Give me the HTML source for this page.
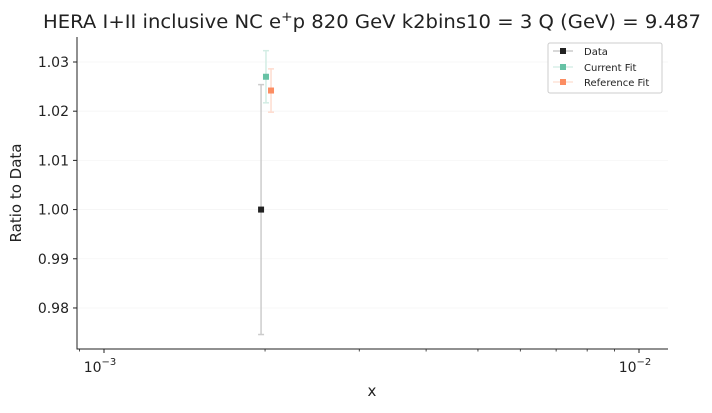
<!DOCTYPE html>
<html><head><meta charset="utf-8"><style>
body{margin:0;background:#fff;font-family:"Liberation Sans","DejaVu Sans",sans-serif;}
svg text{font-family:"DejaVu Sans","Liberation Sans",sans-serif;}
</style></head><body>
<svg id="c" width="712" height="408" viewBox="0 0 712 408" xmlns="http://www.w3.org/2000/svg">
<text x="372" y="28" text-anchor="middle" font-size="18.5" fill="#222" textLength="658" lengthAdjust="spacingAndGlyphs">HERA I+II inclusive NC e<tspan dy="-7" font-size="13">+</tspan><tspan dy="7">p 820 GeV k2bins10 = 3 Q (GeV) = 9.487</tspan></text>
<g id="grid"></g><g id="axes"></g><g id="marks"></g>
<text x="372" y="396" text-anchor="middle" font-size="15" fill="#222">x</text>
<text transform="translate(21,193) rotate(-90)" text-anchor="middle" font-size="15" fill="#222">Ratio to Data</text>
<g>
<rect x="548" y="43" width="114" height="50" rx="2" fill="#fff" stroke="#ccc" stroke-width="1"/>
<g><line x1="553" x2="573" y1="51" y2="51" stroke="#999" stroke-width="1.5" opacity="0.5"/><rect x="560" y="48" width="6" height="6" fill="#222"/><text x="584" y="55" font-size="10" fill="#222">Data</text></g>
<g><line x1="553" x2="573" y1="67" y2="67" stroke="#66c2a5" stroke-width="1.5" opacity="0.25"/><rect x="560" y="64" width="6" height="6" fill="#66c2a5"/><text x="584" y="71" font-size="10" fill="#222">Current Fit</text></g>
<g><line x1="553" x2="573" y1="82" y2="82" stroke="#fc8d62" stroke-width="1.5" opacity="0.25"/><rect x="560" y="79" width="6" height="6" fill="#fc8d62"/><text x="584" y="86" font-size="10" fill="#222">Reference Fit</text></g>
</g>
</svg>
<script>
const seriesNames=["Data","Current Fit","Reference Fit"];
const xValues=[0.001966,0.002008,0.002052];
const yValues=[1.0,1.0270,1.0242];
const yErrors=[0.0254,0.0053,0.0044];
const colors=["#222222","#66c2a5","#fc8d62"];
const barColors=["#cccccc","#d3ede4","#fedccf"];
const yTicks=[0.98,0.99,1.00,1.01,1.02,1.03];
const yTickLabels=["0.98","0.99","1.00","1.01","1.02","1.03"];
const xMajor=[0.001,0.01];
const xMajorLabels=["10","10"];
const L=77,R=668,T=37,B=349;
const yMin=0.97166,yMax=1.03508;
const lx0=-3,px0=104,decPx=535;
function X(v){return px0+(Math.log10(v)-lx0)*decPx;}
function Y(v){return B-(v-yMin)/(yMax-yMin)*(B-T);}
const NS="http://www.w3.org/2000/svg";
function mk(p,tag,a){const e=document.createElementNS(NS,tag);for(const k in a)e.setAttribute(k,a[k]);p.appendChild(e);return e;}
const grid=document.getElementById('grid'),axes=document.getElementById('axes'),marks=document.getElementById('marks');
yTicks.forEach((t,i)=>{const y=Y(t);
 const g=mk(grid,'line',{x1:L,x2:R,y1:y,y2:y,stroke:'#f5f5f5','stroke-width':0.8});
 
 
 mk(axes,'line',{x1:L-4,x2:L,y1:y,y2:y,stroke:'#222','stroke-width':1});
 const tx=mk(axes,'text',{x:L-8,y:y+5,'text-anchor':'end','font-size':14,fill:'#222'});tx.textContent=yTickLabels[i];
 
 
});
xMajor.forEach((t,i)=>{const x=X(t);
 mk(axes,'line',{x1:x,x2:x,y1:B,y2:B+4,stroke:'#222','stroke-width':1});
 const tx=mk(axes,'text',{x:x-4,y:B+23,'text-anchor':'middle','font-size':14,fill:'#222'});
 tx.textContent=xMajorLabels[i];
 const s=mk(tx,'tspan',{dy:-7,'font-size':10});s.textContent=i==0?'−3':'−2';
 
 
});
[0.0009,0.002,0.003,0.004,0.005,0.006,0.007,0.008,0.009,0.02].forEach(t=>{const x=X(t);if(x>=L&&x<=R)mk(axes,'line',{x1:x,x2:x,y1:B,y2:B+2.5,stroke:'#222','stroke-width':0.8});});
const ax=mk(axes,'path',{d:`M${L},${T} V${B} H${R}`,fill:'none',stroke:'#222','stroke-width':1});


xValues.forEach((xv,i)=>{const x=X(xv),y=Y(yValues[i]),y1=Y(yValues[i]+yErrors[i]),y2=Y(yValues[i]-yErrors[i]);
 const g=mk(marks,'g',{});
 
 
 mk(g,'line',{x1:x,x2:x,y1:y1,y2:y2,stroke:barColors[i],'stroke-width':1.5});
 mk(g,'line',{x1:x-3,x2:x+3,y1:y1,y2:y1,stroke:barColors[i],'stroke-width':1.5});
 mk(g,'line',{x1:x-3,x2:x+3,y1:y2,y2:y2,stroke:barColors[i],'stroke-width':1.5});
 const p=mk(g,'rect',{x:x-3,y:y-3,width:6,height:6,fill:colors[i]});
 
 
});
</script>
</body></html>
